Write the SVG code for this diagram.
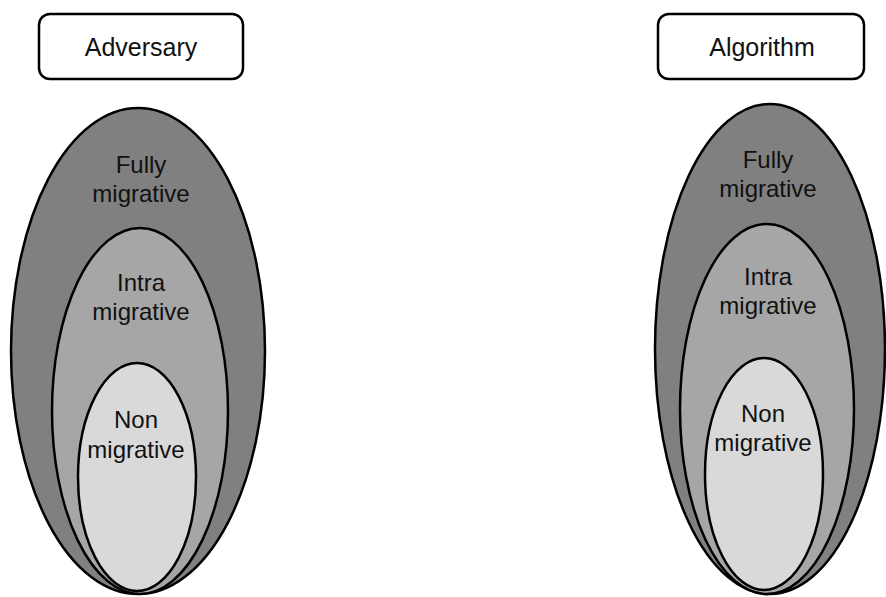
<svg xmlns="http://www.w3.org/2000/svg" width="886" height="597" viewBox="0 0 886 597">
<style>
.box{fill:#fff;stroke:#000;stroke-width:2.5}
.e{stroke:#000;stroke-width:2.5}
.o{fill:#808080}
.i{fill:#a6a6a6}
.n{fill:#d9d9d9}
text{font-family:"Liberation Sans",Arial,sans-serif;font-size:24px;fill:#111;text-anchor:middle}
.bt{font-size:25px}
</style>
<rect width="886" height="597" fill="#fff"/>
<g id="adversary">
<rect class="box" x="39" y="14" width="204" height="65" rx="11"/>
<text class="bt" x="141" y="56">Adversary</text>
</g>
<g id="adv-fully">
<ellipse class="e o" cx="138" cy="351" rx="127" ry="243"/>
<text x="141" y="173">Fully</text>
<text x="141" y="202">migrative</text>
</g>
<g id="adv-intra">
<ellipse class="e i" cx="140" cy="411" rx="88" ry="183"/>
<text x="141" y="291">Intra</text>
<text x="141" y="320">migrative</text>
</g>
<g id="adv-non">
<ellipse class="e n" cx="137" cy="477" rx="59" ry="114"/>
<text x="136" y="428">Non</text>
<text x="136" y="458">migrative</text>
</g>
<g id="algorithm">
<rect class="box" x="658" y="14" width="206" height="65" rx="11"/>
<text class="bt" x="762" y="56">Algorithm</text>
</g>
<g id="alg-fully">
<ellipse class="e o" cx="770" cy="349" rx="115" ry="245"/>
<text x="768" y="168">Fully</text>
<text x="768" y="197">migrative</text>
</g>
<g id="alg-intra">
<ellipse class="e i" cx="767" cy="409" rx="87" ry="185"/>
<text x="768" y="285">Intra</text>
<text x="768" y="314">migrative</text>
</g>
<g id="alg-non">
<ellipse class="e n" cx="764" cy="474" rx="59" ry="116"/>
<text x="763" y="422">Non</text>
<text x="763" y="451">migrative</text>
</g>
<g id="connectors"/>
</svg>
